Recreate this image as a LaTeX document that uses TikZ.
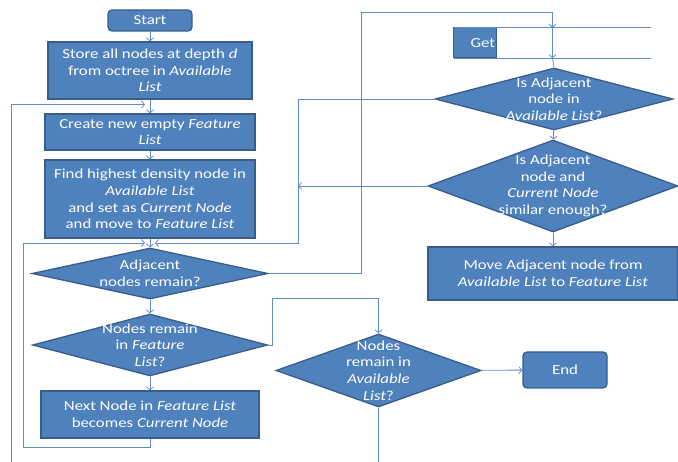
\documentclass[tikz,border=0pt]{standalone}
\usepackage{fontspec}
\setmainfont{Carlito}[FakeStretch=1.22]
\usetikzlibrary{shapes.geometric, arrows.meta, positioning, calc}
\definecolor{boxblue}{RGB}{79,129,189}
\definecolor{edgeblue}{RGB}{56,93,138}
\definecolor{lineblue}{RGB}{95,140,200}

\begin{document}
\begin{tikzpicture}[x=1pt, y=-1pt,
  every node/.style={font=\fontsize{13.8}{16.7}\selectfont, text=white},
  procbox/.style={draw=edgeblue, line width=1.3pt, fill=boxblue, align=center, inner sep=0pt},
  termbox/.style={procbox, rounded corners=4pt},
  decbox/.style={diamond, draw=edgeblue, line width=1.3pt, fill=boxblue, inner sep=0pt, aspect=2},
  dectext/.style={align=center, inner sep=0pt},
  flow/.style={draw=lineblue, line width=0.8pt, -{Straight Barb[length=3pt,width=7pt]}},
  link/.style={draw=lineblue, line width=0.8pt}
]
  \useasboundingbox (0,0) rectangle (678,462);

  % left column
  \node[termbox, minimum width=84pt, minimum height=21pt] (start) at (150,20.5) {Start};
  \node[procbox, minimum width=204pt, minimum height=57pt] (store) at (150,70.5)
    {Store all nodes at depth \textit{d}\\from octree in \textit{Available}\\\textit{List}};
  \node[procbox, minimum width=210pt, minimum height=36pt] (create) at (150,132)
    {Create new empty \textit{Feature}\\\textit{List}};
  \node[procbox, minimum width=210pt, minimum height=78pt] (find) at (150,199)
    {Find highest density node in\\\textit{Available List}\\and set as \textit{Current Node}\\and move to \textit{Feature List}};
  \node[decbox, minimum width=236pt, minimum height=51pt] (adj) at (150,273.5) {};
  \node[dectext] (adjtext) at (adj) {Adjacent\\nodes remain?};
  \node[decbox, minimum width=235pt, minimum height=62pt] (feat) at (150,345) {};
  \node[dectext] (feattext) at (feat) {Nodes remain\\in \textit{Feature}\\\textit{List}?};
  \node[procbox, minimum width=218pt, minimum height=47pt] (next) at (150,414.5)
    {Next Node in \textit{Feature List}\\becomes \textit{Current Node}};

  % right column
  \node[minimum width=197pt, minimum height=30pt, inner sep=0pt] (get) at (552.5,43) {};
  \path[fill=boxblue, draw=edgeblue, line width=1.3pt] (get.north west) rectangle ++(43,30);
  \node (gettext) at ($(get.west)+(29,0)$) {Get};
  \draw[link] (get.north west) -- (get.north east);
  \draw[link] (get.south west) -- (get.south east);
  \node[decbox, minimum width=238pt, minimum height=62pt] (isadj) at (554,99) {};
  \node[dectext] (isadjtext) at (isadj) {Is Adjacent\\node in\\\textit{Available List}?};
  \node[decbox, minimum width=250pt, minimum height=92pt] (simil) at (553,186) {};
  \node[dectext] (similtext) at (simil) {Is Adjacent\\node and\\\textit{Current Node}\\similar enough?};
  \node[procbox, minimum width=250pt, minimum height=53pt] (move) at (553,273.5)
    {Move Adjacent node from\\\textit{Available List} to \textit{Feature List}};
  \node[decbox, minimum width=205pt, minimum height=73pt] (avail) at (378.5,370.5) {};
  \node[dectext] (availtext) at (avail) {Nodes\\remain in\\\textit{Available}\\\textit{List}?};
  \node[termbox, minimum width=84pt, minimum height=36pt] (end) at (565,370) {End};

  % junctions
  \coordinate (joinA) at ($(store.south)!0.35!(create.north)$);
  \coordinate (joinB) at ($(find.south)!0.5!(adj.north)$);
  \coordinate (rjoin) at ([xshift=148pt]joinB);
  \coordinate (leftA) at (11,462);
  \coordinate (topturn) at (361,12);
  \coordinate (availout) at (avail.south |- leftA);

  % connectors
  \draw[flow] (start) -- (store);
  \draw[flow] (store) -- (create);
  \draw[flow] (create) -- (find);
  \draw[flow] (find) -- (adj);
  \draw[flow] (adj) -- (feat);
  \draw[flow] (feat) -- (next);
  \draw[flow] (isadj) -- (simil);
  \draw[flow] (simil) -- (move);
  \draw[flow] (avail) -- (end);

  \draw[flow] (leftA) |- ([xshift=-5pt]joinA);
  \draw[flow] (next.south) -- ++(0,9) -| ([xshift=-127pt]joinB) -- ([xshift=-5pt]joinB);
  \draw[flow] (isadj.west) -| (rjoin) -- ([xshift=5pt]joinB);
  \draw[flow] (simil.west) -- (simil.west -| rjoin);
  \draw[flow] (adj.east) -| (topturn) -| (get.north);
  \draw[flow] (get.north) -- (get.south);
  \draw[link] (get.south) -- (isadj.north);
  \draw[flow] (feat.east) -- ++(4,0) |- ([yshift=35pt]avail.north) -- (avail.north);
  \draw[link] (avail.south) -- (availout);
\end{tikzpicture}
\end{document}
